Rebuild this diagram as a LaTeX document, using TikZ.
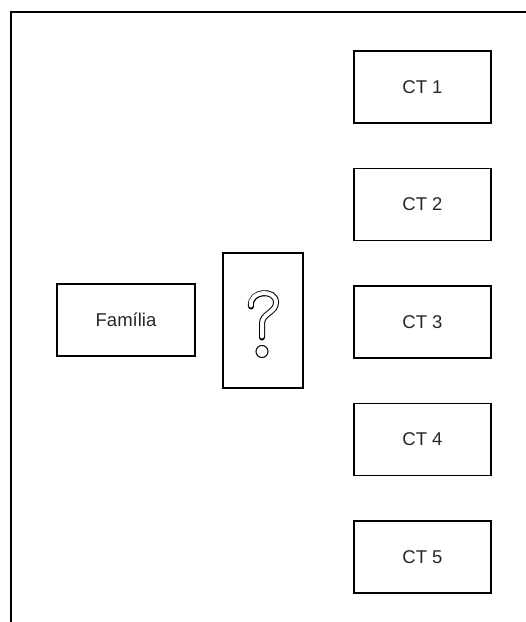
\documentclass[tikz,border=0pt]{standalone}
\usepackage{fontspec}
\setmainfont{Liberation Sans}
\usetikzlibrary{positioning}

\begin{document}
\begin{tikzpicture}[
x=1pt, y=-1pt,
font=\fontsize{18.5}{22}\selectfont,
box/.style={draw, line width=1.5pt, text=black!85, minimum width=137pt, minimum height=72pt, inner sep=0pt},
node distance=44pt
]
\useasboundingbox (0,0) rectangle (526,622);
% outer frame (top and left only)
\draw[line width=2pt] (526,12) -- (11,12) -- (11,622);

\node[box, minimum width=138pt] (fam) at (126,320) {Família};
\node[box, minimum width=80pt, minimum height=135pt] (quest) at (263,320.5) {};

\node[box] (ct1) at (422.5,87) {CT 1};
\foreach \i [remember=\i as \prev (initially 1)] in {2,...,5}
  \node[box, below=of ct\prev] (ct\i) {CT \i};

% question mark glyph
\begin{scope}[shift={(quest.center)}]
\draw[line width=6pt, line cap=round] (-12,-14) .. controls (-14,-30) and (13,-32) .. (13,-18) .. controls (13,-8) and (-1,-7) .. (-1,3) -- (-1,17);
\draw[line width=4pt, white, line cap=round, shorten <=1pt, shorten >=1pt] (-12,-14) .. controls (-14,-30) and (13,-32) .. (13,-18) .. controls (13,-8) and (-1,-7) .. (-1,3) -- (-1,17);
\draw[line width=1pt] (-1,31) circle (6);
\end{scope}
\end{tikzpicture}
\end{document}
